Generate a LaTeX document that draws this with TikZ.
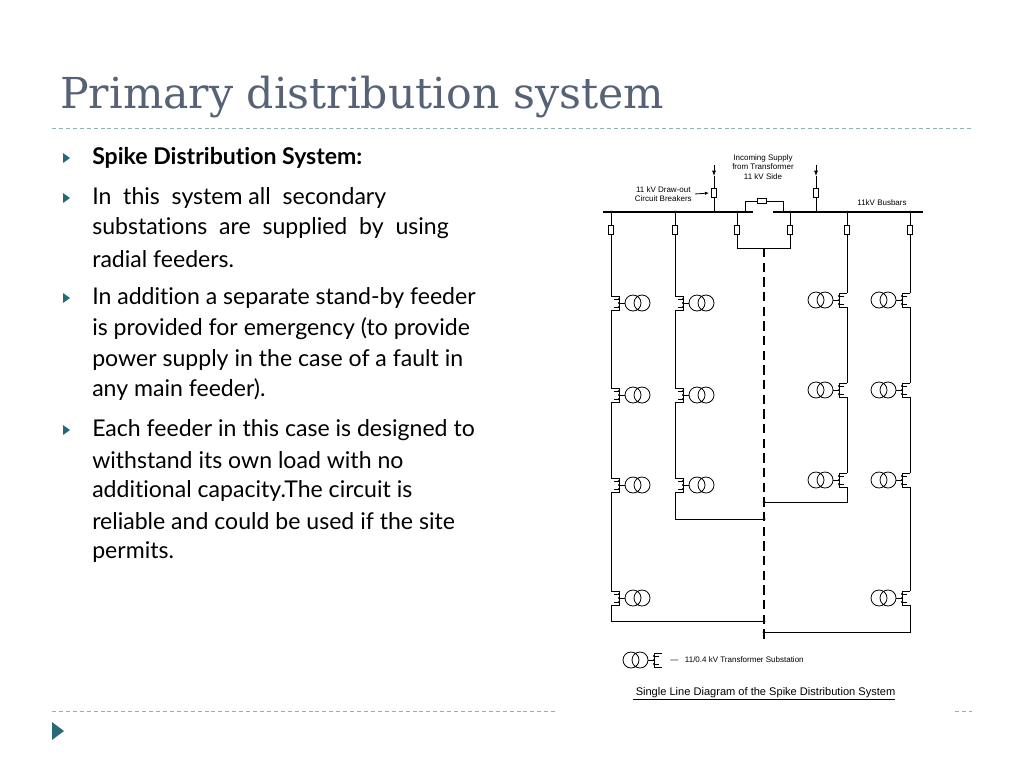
\documentclass[tikz,border=0pt]{standalone}
\usepackage{fontspec}
\setmainfont[Ligatures=NoCommon]{Lato}
\newfontfamily\titlefont{DejaVu Serif}
\newfontfamily\diagfont{Liberation Sans}
\usetikzlibrary{arrows.meta, positioning}
\definecolor{titlegray}{RGB}{88,98,118}
\definecolor{rulecol}{RGB}{140,180,180}
\definecolor{bulletcol}{RGB}{40,105,120}
\tikzset{
    bullet/.style   = {bulletcol, fill=bulletcol},
    txt/.style      = {anchor=west, inner sep=0pt, font=\fontsize{17.3}{19}\selectfont},
    rule/.style     = {rulecol, dash pattern=on 3pt off 2.2pt, line width=0.6pt},
    bus/.style      = {line width=1.6pt},
    wire/.style     = {line width=0.6pt},
    breaker/.style  = {draw, rectangle, line width=0.5pt, minimum width=3.8pt, minimum height=6.5pt, inner sep=0pt},
    lbl/.style      = {font=\diagfont\fontsize{6}{7}\selectfont, align=center, inner sep=0pt},
    pics/substn/.style = {code={
        \coordinate (-in) at (0,-7);
        \coordinate (-out) at (0,7);
        \draw[wire] (0,-7) -- (8,-7) -- (8,7) -- (0,7);
        \draw[wire] (8,0) -- (14,0);
        \draw[wire] (22,0) circle (8) (31,0) circle (8);
        \foreach \yy in {-4,0,4} \fill (8,\yy) circle (1.1);
        \draw[wire] (3,-4) -- (8,-4) (3,4) -- (8,4);
    }}
}
\begin{document}
\begin{tikzpicture}[x=0.75pt, y=-0.75pt]
\useasboundingbox (0,0) rectangle (1024,768);
% title and rules
\node (title) [anchor=west, inner sep=0pt, text=titlegray, font=\titlefont\fontsize{32}{36}\selectfont] at (60,97) {Primary distribution system};
\draw[rule] (52,128) -- (972,128);
\draw[rule] (52,711) -- (555,711);
\draw[rule] (955,711) -- (972,711);
\fill[bullet] (52,722) -- (64,731) -- (52,740) -- cycle;
% bullets
\foreach \yy in {158,198,298,430}
    \fill[bullet] (63,\yy-5) -- (70,\yy) -- (63,\yy+5) -- cycle;
\node (l1)  [txt, font=\bfseries\fontsize{17.3}{19}\selectfont] at (92,158) {Spike Distribution System:};
\node (l2)  [txt] at (92,198) {In\ \ this\ \ system all\ \ secondary};
\node (l3)  [txt] at (92,228) {substations\ \ are\ \ supplied\ \ by\ \ using};
\node (l4)  [txt] at (92,259) {radial feeders.};
\node (l5)  [txt] at (92,298) {In addition a separate stand-by feeder};
\node (l6)  [txt] at (92,329) {is provided for emergency (to provide};
\node (l7)  [txt] at (92,360) {power supply in the case of a fault in};
\node (l8)  [txt] at (92,390) {any main feeder).};
\node (l9)  [txt] at (92,430) {Each feeder in this case is designed to};
\node (l10) [txt] at (92,460) {withstand its own load with no};
\node (l11) [txt] at (92,491) {additional capacity.The circuit is};
\node (l12) [txt] at (92,521) {reliable and could be used if the site};
\node (l13) [txt] at (92,552) {permits.};
% busbars
\draw[bus] (603,212) -- (753,212);
\draw[bus] (773,212) -- (923,212);
% incoming supplies
\node (inA) [breaker] at (714,193) {};
\node (inB) [breaker] at (816,193) {};
\coordinate (topA) at (714,165);
\coordinate (topB) at (816,165);
\draw[wire, -{Latex[length=4pt, width=3pt]}] (topA) -- (714,176);
\draw[wire] (714,176) -- (inA) -- (714,212);
\draw[wire, -{Latex[length=4pt, width=3pt]}] (topB) -- (816,176);
\draw[wire] (816,176) -- (inB) -- (816,212);
% bus section
\node (sec) [breaker, minimum width=6.5pt, minimum height=4pt] at (762,201) {};
\draw[wire] (745,212) -- (745,201) -- (sec) -- (783,201) -- (783,212);
% labels
\node (inc) [lbl] at (763,167) {Incoming Supply\\from Transformer\\11 kV Side};
\node (cbl) [lbl, anchor=east] at (692,194) {11 kV Draw-out\\Circuit Breakers};
\draw[wire, -{Latex[length=3pt, width=2.5pt]}] (cbl.east) ++(3,0) -- (709,193);
\node (bbl) [lbl] at (882,203) {11kV Busbars};
% feeder breakers
\foreach \n/\xx in {fa/611,fb/675,sa/737,sb/790,fc/847,fd/910}{
    \node (\n) [breaker] at (\xx,230) {};
    \draw[wire] (\xx,212) -- (\n);
    \fill (\xx,212) circle (1.3);
}
% stand-by feeder
\coordinate (sby) at (764,248);
\draw[wire] (sa) -- (737,248) -- (790,248) -- (sb);
\draw[line width=1.6pt, dash pattern=on 7pt off 4pt] (sby) -- (764,640);
% substations left
\pic (a1) at (611,303) {substn};
\pic (a2) at (611,395) {substn};
\pic (a3) at (611,485) {substn};
\pic (a4) at (611,598) {substn};
\pic (b1) at (675,303) {substn};
\pic (b2) at (675,395) {substn};
\pic (b3) at (675,485) {substn};
% substations right
\pic[xscale=-1] (c1) at (847,300) {substn};
\pic[xscale=-1] (c2) at (847,390) {substn};
\pic[xscale=-1] (c3) at (847,480) {substn};
\pic[xscale=-1] (d1) at (910,300) {substn};
\pic[xscale=-1] (d2) at (910,390) {substn};
\pic[xscale=-1] (d3) at (910,480) {substn};
\pic[xscale=-1] (d4) at (910,598) {substn};
% feeders
\draw[wire] (fa) -- (a1-in) (a1-out) -- (a2-in) (a2-out) -- (a3-in) (a3-out) -- (a4-in) (a4-out) |- (764,621);
\draw[wire] (fb) -- (b1-in) (b1-out) -- (b2-in) (b2-out) -- (b3-in) (b3-out) |- (764,519);
\draw[wire] (fc) -- (c1-in) (c1-out) -- (c2-in) (c2-out) -- (c3-in) (c3-out) |- (764,502);
\draw[wire] (fd) -- (d1-in) (d1-out) -- (d2-in) (d2-out) -- (d3-in) (d3-out) -- (d4-in) (d4-out) |- (764,632);
\foreach \yy in {502,519,621,632} \fill (764,\yy) circle (1.5);
% legend
\pic[xscale=-1] (leg) at (662,660) {substn};
\node (legt) [lbl, anchor=west] at (670,660) {\textemdash\ \ \ 11/0.4 kV Transformer Substation};
\node (cap) [lbl, font=\diagfont\fontsize{8.3}{10}\selectfont] at (764,694) {\underline{\ Single Line Diagram of the Spike Distribution System}};
\end{tikzpicture}
\end{document}
